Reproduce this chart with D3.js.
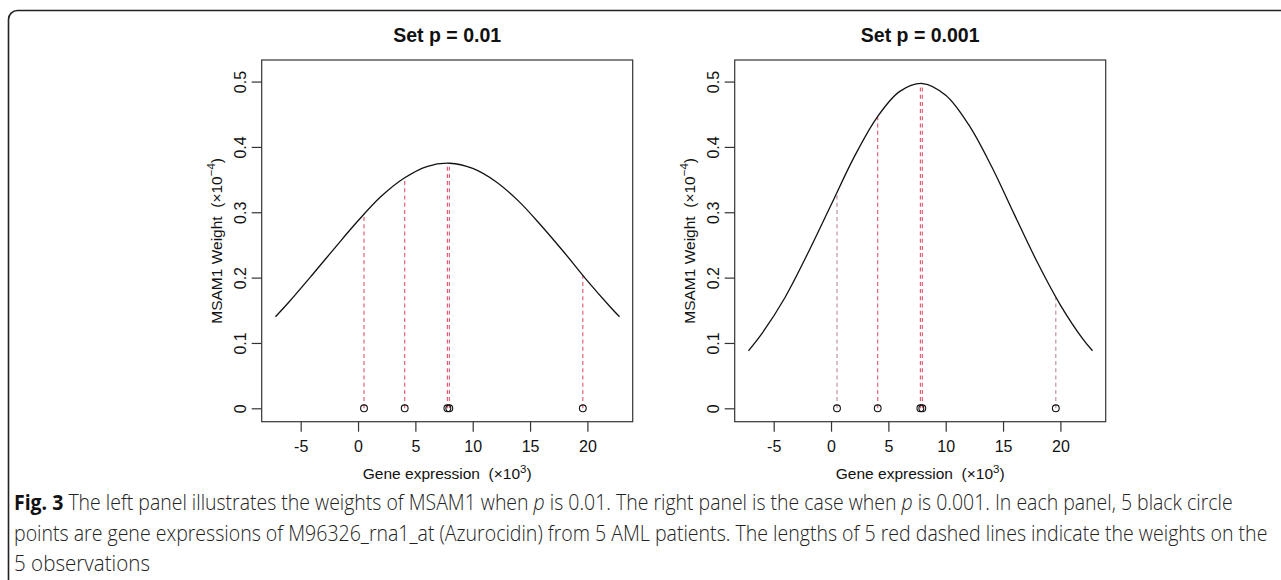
<!DOCTYPE html>
<html><head><meta charset="utf-8">
<script src="https://cdn.jsdelivr.net/npm/d3@7"></script>
<style>body{margin:0;background:#fff} svg{display:block}</style>
</head><body><svg id="c" width="1281" height="580"></svg>
<script>
// ---- data ----
const titles = ["Set p = 0.01", "Set p = 0.001"];
const xTicks = [-5, 0, 5, 10, 15, 20];
const yTicks = [0, 0.1, 0.2, 0.3, 0.4, 0.5];
const yTickLabels = ["0", "0.1", "0.2", "0.3", "0.4", "0.5"];
const curveX = [-7.2, -6, -4, -2, 0, 2, 4, 6, 8, 10, 12, 14, 16, 18, 20, 22, 22.8];
const curveLeft = [0.140, 0.163, 0.204, 0.246, 0.287, 0.324, 0.352, 0.370, 0.375, 0.367, 0.347, 0.317, 0.279, 0.238, 0.195, 0.155, 0.140];
const curveRight = [0.088, 0.115, 0.170, 0.238, 0.311, 0.384, 0.445, 0.485, 0.497, 0.479, 0.434, 0.370, 0.296, 0.223, 0.158, 0.105, 0.088];
const obsX = [0.52, 4.07, 7.79, 7.96, 19.6];
const weightsLeft = [0.297, 0.350, 0.374, 0.375, 0.204];
const weightsRight = [0.330, 0.447, 0.496, 0.497, 0.170];
const dashColorsLeft = ["#df536b", "#df536b", "#df536b", "#df536b", "#df536b"];
const dashColorsRight = ["#b98a94", "#df536b", "#df536b", "#df536b", "#b98a94"];
const xTitle = "Gene expression\u00a0\u00a0(\u00d710";
const xTitleSup = "3";
const yTitle = "MSAM1 Weight\u00a0\u00a0(\u00d710";
const yTitleSup = "\u22124";
const captionLines = [
  [{t: "Fig. 3", b: true}, {t: " The left panel illustrates the weights of MSAM1 when "}, {t: "p", i: true}, {t: " is 0.01. The right panel is the case when "}, {t: "p", i: true}, {t: " is 0.001. In each panel, 5 black circle"}],
  [{t: "points are gene expressions of M96326_rna1_at (Azurocidin) from 5 AML patients. The lengths of 5 red dashed lines indicate the weights on the"}],
  [{t: "5 observations"}]
];

// ---- layout ----
const svg = d3.select("#c");
svg.append("rect").attr("x", 8.5).attr("y", 10.5).attr("width", 1320).attr("height", 640)
  .attr("rx", 9).attr("fill", "none").attr("stroke", "#222").attr("stroke-width", 1.6);

const panels = [
  {title: titles[0], curve: curveLeft, w: weightsLeft, col: dashColorsLeft, left: 261.7},
  {title: titles[1], curve: curveRight, w: weightsRight, col: dashColorsRight, left: 734.7}
];
const boxW = 371, boxTop = 60, boxH = 361.7;
const axisFont = "'Liberation Sans', Arial, Helvetica, sans-serif";

panels.forEach(p => {
  const g = svg.append("g");
  const x = d3.scaleLinear().domain([-8.4, 23.95]).range([p.left, p.left + boxW]);
  const y = d3.scaleLinear().domain([-0.0205, 0.533]).range([boxTop + boxH, boxTop]);

  g.append("text").attr("x", p.left + boxW / 2).attr("y", 42).attr("text-anchor", "middle")
    .attr("font-family", axisFont).attr("font-weight", "bold").attr("font-size", 19.5).attr("fill", "#111")
    .text(p.title);

  g.selectAll(".wl").data(obsX).enter().append("line")
    .attr("x1", d => x(d)).attr("x2", d => x(d))
    .attr("y1", y(0)).attr("y2", (d, i) => y(p.w[i]))
    .attr("stroke", (d, i) => p.col[i]).attr("stroke-width", 1.1).attr("stroke-dasharray", "4,3.2");

  const line = d3.line().x(d => x(d[0])).y(d => y(d[1])).curve(d3.curveCatmullRom);
  g.append("path").datum(curveX.map((v, i) => [v, p.curve[i]])).attr("d", line)
    .attr("fill", "none").attr("stroke", "#111").attr("stroke-width", 1.3);

  g.selectAll(".pt").data(obsX).enter().append("circle")
    .attr("cx", d => x(d)).attr("cy", y(0)).attr("r", 3.4)
    .attr("fill", "none").attr("stroke", "#111").attr("stroke-width", 1.1);

  g.append("rect").attr("x", p.left).attr("y", boxTop).attr("width", boxW).attr("height", boxH)
    .attr("fill", "none").attr("stroke", "#333").attr("stroke-width", 1.2);

  const xa = g.append("g").attr("transform", `translate(0,${boxTop + boxH})`)
    .call(d3.axisBottom(x).tickValues(xTicks).tickSize(10).tickFormat(d => String(d)));
  xa.select(".domain").remove();
  xa.selectAll("line").attr("stroke", "#333").attr("stroke-width", 1.2);
  xa.selectAll("text").attr("font-family", axisFont).attr("font-size", 16).attr("fill", "#111")
    .attr("y", 30.8).attr("dy", 0);

  const ya = g.append("g").attr("transform", `translate(${p.left},0)`)
    .call(d3.axisLeft(y).tickValues(yTicks).tickSize(10).tickFormat((d, i) => yTickLabels[i]));
  ya.select(".domain").remove();
  ya.selectAll("line").attr("stroke", "#333").attr("stroke-width", 1.2);
  ya.selectAll("text").attr("font-family", axisFont).attr("font-size", 16).attr("fill", "#111")
    .attr("x", 0).attr("dy", 0).attr("y", -15.5).attr("text-anchor", "middle").attr("transform", "rotate(-90)");

  const xt = g.append("text").attr("x", p.left + boxW / 2).attr("y", 479).attr("text-anchor", "middle")
    .attr("font-family", axisFont).attr("font-size", 15.5).attr("fill", "#111");
  xt.append("tspan").text(xTitle);
  xt.append("tspan").attr("dy", -6.5).attr("font-size", 11.5).text(xTitleSup);
  xt.append("tspan").attr("dy", 6.5).text(")");

  const yt = g.append("text").attr("transform", `translate(${p.left - 40},${boxTop + boxH / 2}) rotate(-90)`)
    .attr("text-anchor", "middle").attr("font-family", axisFont).attr("font-size", 15.5).attr("fill", "#111");
  yt.append("tspan").text(yTitle);
  yt.append("tspan").attr("dy", -6.5).attr("font-size", 11.5).text(yTitleSup);
  yt.append("tspan").attr("dy", 6.5).text(")");
});

const capY = [510, 541, 571];
const capRight = [1233, 1268, 150];
captionLines.forEach((parts, li) => {
  const t = svg.append("text").attr("x", 0).attr("y", 0)
    .attr("font-family", "'Open Sans', sans-serif").attr("font-weight", 300).attr("font-size", 22).attr("fill", "#222");
  parts.forEach(p => {
    const s = t.append("tspan").text(p.t);
    if (p.b) s.attr("font-weight", 700).attr("fill", "#111");
    if (p.i) s.attr("font-style", "italic");
  });
  const wNat = t.node().getComputedTextLength();
  const sx = (capRight[li] - 14) / wNat;
  t.attr("transform", `translate(14,${capY[li]}) scale(${sx},1)`);
});
</script></body></html>
